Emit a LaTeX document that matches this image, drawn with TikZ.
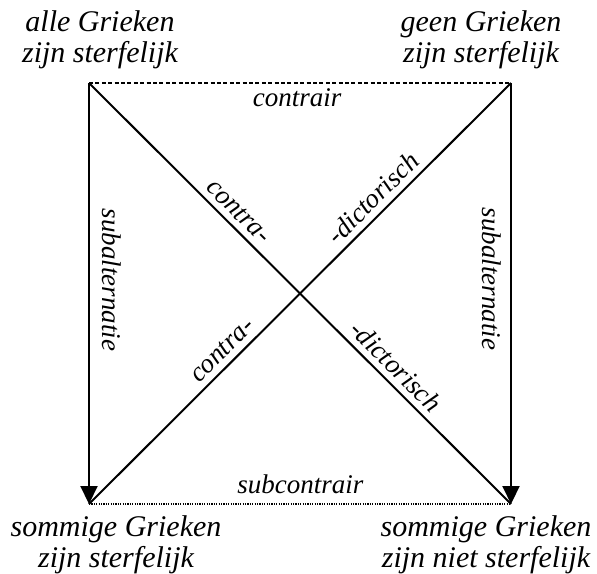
\documentclass[tikz,border=0pt]{standalone}
\usepackage{fontspec}
\setmainfont{Liberation Serif}
\usetikzlibrary{arrows.meta}
\begin{document}
\begin{tikzpicture}[x=0.5pt,y=-0.5pt,
  corner/.style={font=\fontsize{15}{15.5}\selectfont\itshape, align=center, inner sep=0pt},
  lab/.style={font=\fontsize{13.5}{14}\selectfont\itshape, inner sep=0pt},
  edge/.style={line width=1pt},
  subarrow/.style={edge, -{Triangle[length=9pt,width=8.5pt]}},
  dashline/.style={edge, dash pattern=on 2pt off 1.2pt},
  dotline/.style={line width=1pt, dash pattern=on 0.6pt off 0.6pt}
]
\useasboundingbox (0,0) rectangle (597,573);
\coordinate (TL) at (89,83);
\coordinate (TR) at (511,83);
\coordinate (BL) at (89,504);
\coordinate (BR) at (511,504);

\node[corner] (tA) at (100,40) {alle Grieken\\zijn sterfelijk};
\node[corner] (tE) at (481,40) {geen Grieken\\zijn sterfelijk};
\node[corner] (tI) at (116,545) {sommige Grieken\\zijn sterfelijk};
\node[corner] (tO) at (486,545) {sommige Grieken\\zijn niet sterfelijk};

\draw[dashline] (TL) -- node[lab, below=2.5pt, pos=0.493] (lc) {contrair} (TR);
\draw[dotline] (BL) -- node[lab, above=4.5pt, pos=0.501] (lsc) {subcontrair} (BR);

\draw[subarrow] (TL) -- (BL);
\draw[subarrow] (TR) -- (BR);
\node[lab, rotate=-90] (sL) at (112,280) {subalternatie};
\node[lab, rotate=-90] (sR) at (492,279) {subalternatie};

\draw[edge] (TL) -- node[lab, sloped, above=3pt, pos=0.33] (d1) {contra-}
                    node[lab, sloped, above=3pt, pos=0.70] (d2) {-dictorisch} (BR);
\draw[edge] (BL) -- node[lab, sloped, above=3pt, pos=0.34] (d3) {contra-}
                    node[lab, sloped, above=3pt, pos=0.70] (d4) {-dictorisch} (TR);
\end{tikzpicture}
\end{document}
